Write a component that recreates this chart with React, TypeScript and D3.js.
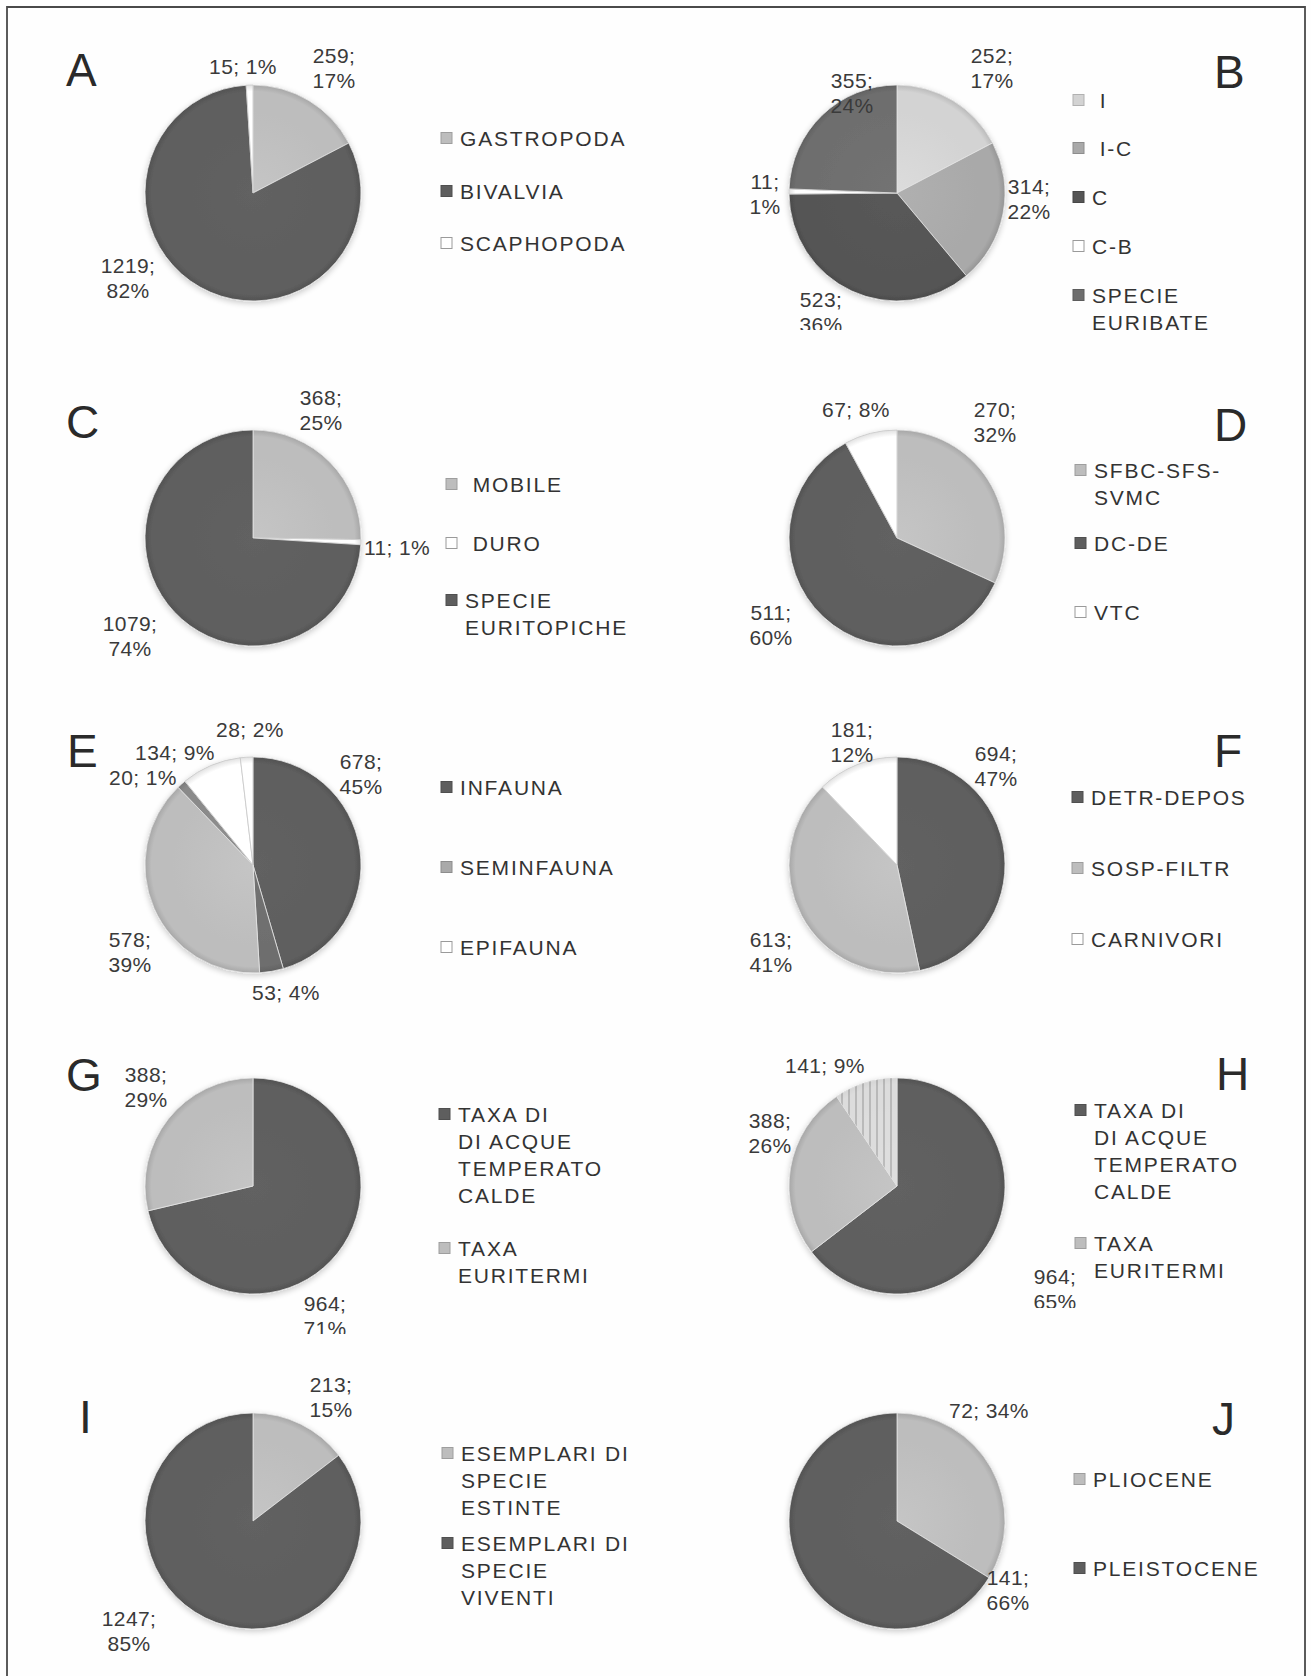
import React from "react";
import * as d3 from "d3";

// ---------------- DATA ----------------
const panelLetters = ["A", "B", "C", "D", "E", "F", "G", "H", "I", "J"];

const valuesA = [259, 1219, 15];
const valuesB = [252, 314, 523, 11, 355];
const valuesC = [368, 11, 1079];
const valuesD = [270, 511, 67];
const valuesE = [678, 53, 578, 20, 134, 28];
const valuesF = [694, 613, 181];
const valuesG = [964, 388];
const valuesH = [964, 388, 141];
const valuesI = [213, 1247];
const valuesJ = [72, 141];

// legend entries ("|" = line break)
const legendA = ["GASTROPODA", "BIVALVIA", "SCAPHOPODA"];
const legendB = [" I", " I-C", "C", "C-B", "SPECIE|EURIBATE"];
const legendC = [" MOBILE", " DURO", "SPECIE|EURITOPICHE"];
const legendD = ["SFBC-SFS-|SVMC", "DC-DE", "VTC"];
const legendE = ["INFAUNA", "SEMINFAUNA", "EPIFAUNA"];
const legendF = ["DETR-DEPOS", "SOSP-FILTR", "CARNIVORI"];
const legendG = ["TAXA DI|DI ACQUE|TEMPERATO|CALDE", "TAXA|EURITERMI"];
const legendH = ["TAXA DI|DI ACQUE|TEMPERATO|CALDE", "TAXA|EURITERMI"];
const legendI = ["ESEMPLARI DI|SPECIE|ESTINTE", "ESEMPLARI DI|SPECIE|VIVENTI"];
const legendJ = ["PLIOCENE", "PLEISTOCENE"];

// ---------------- STYLE ----------------
const DARK = "#5e5e5e";
const DARK_C = "#555555";
const DARK2 = "#6e6e6e";
const MID = "#8a8a8a";
const LIGHT = "#bdbdbd";
const LIGHT2 = "#a9a9a9";
const PALE = "#d3d3d3";
const WHITE = "#ffffff";
const STRIPE = "stripe";

const colorsA = [LIGHT, DARK, WHITE];
const colorsB = [PALE, LIGHT2, DARK_C, WHITE, DARK2];
const colorsC = [LIGHT, WHITE, DARK];
const colorsD = [LIGHT, DARK, WHITE];
const colorsE = [DARK, DARK2, LIGHT, MID, WHITE, WHITE];
const colorsF = [DARK, LIGHT, WHITE];
const colorsG = [DARK, LIGHT];
const colorsH = [DARK, LIGHT, STRIPE];
const colorsI = [LIGHT, DARK];
const colorsJ = [LIGHT, DARK];
const legendColorsE = [DARK, LIGHT2, WHITE];

// ---------------- LAYOUT ----------------
const W = 1311;
const H = 1676;
const R = 108;
const colX = [253, 897];
const rowY = [193, 538, 865, 1186, 1521];

// label offsets from pie centre: [dx, dy, lines]
const labA = [[81, -125, 2], [-125, 85, 2], [-10, -127, 1]];
const labB = [[95, -125, 2], [132, 6, 2], [-76, 119, 2], [-132, 1, 2], [-45, -100, 2]];
const labC = [[68, -128, 2], [144, 9, 1], [-123, 98, 2]];
const labD = [[98, -116, 2], [-126, 87, 2], [-41, -129, 1]];
const labE = [[108, -91, 2], [33, 127, 1], [-123, 87, 2], [-110, -88, 1], [-78, -113, 1], [-3, -136, 1]];
const labF = [[99, -99, 2], [-126, 87, 2], [-45, -123, 2]];
const labG = [[72, 130, 2], [-107, -99, 2]];
const labH = [[158, 103, 2], [-127, -53, 2], [-72, -121, 1]];
const labI = [[78, -124, 2], [-124, 110, 2]];
const labJ = [[92, -111, 1], [111, 69, 2]];

// panel letter positions [x, baseline]
const letterPos = [
  [66, 86], [1214, 88], [66, 438], [1214, 441], [67, 767],
  [1214, 767], [66, 1091], [1216, 1090], [79, 1433], [1212, 1435],
];
// legend marker x and row centres (first line)
const legendX = [441, 1073, 446, 1075, 441, 1072, 439, 1075, 442, 1074];
const legendRows = [
  [138, 191, 243],
  [100, 148, 197, 246, 295],
  [484, 543, 600],
  [470, 543, 612],
  [787, 867, 947],
  [797, 868, 939],
  [1114, 1248],
  [1110, 1243],
  [1453, 1543],
  [1479, 1568],
];
const labelClip = [9999, 330, 9999, 9999, 9999, 9999, 1334, 1308, 1651, 9999];

const panels = [
  { values: valuesA, colors: colorsA, legend: legendA, legendColors: colorsA, labels: labA },
  { values: valuesB, colors: colorsB, legend: legendB, legendColors: colorsB, labels: labB },
  { values: valuesC, colors: colorsC, legend: legendC, legendColors: colorsC, labels: labC },
  { values: valuesD, colors: colorsD, legend: legendD, legendColors: colorsD, labels: labD },
  { values: valuesE, colors: colorsE, legend: legendE, legendColors: legendColorsE, labels: labE },
  { values: valuesF, colors: colorsF, legend: legendF, legendColors: colorsF, labels: labF },
  { values: valuesG, colors: colorsG, legend: legendG, legendColors: colorsG, labels: labG },
  { values: valuesH, colors: colorsH, legend: legendH, legendColors: colorsH, labels: labH },
  { values: valuesI, colors: colorsI, legend: legendI, legendColors: colorsI, labels: labI },
  { values: valuesJ, colors: colorsJ, legend: legendJ, legendColors: colorsJ, labels: labJ },
];

const FONT = "'Liberation Sans', Arial, Helvetica, sans-serif";
const TEXT_COLOR = "#3a3a3a";

function shade(c: string, k: number) {
  const col = d3.color(c)!;
  return (k >= 0 ? col.brighter(k) : col.darker(-k)).formatHex();
}

export default function App() {
  const pie = d3.pie<number>().sort(null).value((d) => d);
  const arc = d3.arc<d3.PieArcDatum<number>>().innerRadius(0).outerRadius(R);
  const pct = d3.format(".0f");

  return (
    <svg
      width={W}
      height={H}
      viewBox={`0 0 ${W} ${H}`}
      style={{ position: "absolute", left: 0, top: 0, background: "#fefefe" }}
    >
      <defs>
        <filter id="soft" x="-20%" y="-20%" width="140%" height="140%">
          <feGaussianBlur in="SourceAlpha" stdDeviation="3" />
          <feOffset dx="0" dy="2" result="b" />
          <feComponentTransfer>
            <feFuncA type="linear" slope="0.22" />
          </feComponentTransfer>
          <feMerge>
            <feMergeNode />
            <feMergeNode in="SourceGraphic" />
          </feMerge>
        </filter>
        <pattern id="stripes" width="7" height="7" patternUnits="userSpaceOnUse">
          <rect width="7" height="7" fill="#dedede" />
          <line x1="1" y1="0" x2="1" y2="7" stroke="#a0a0a0" strokeWidth="1.6" />
        </pattern>
        {panels.map((p, pi) =>
          p.colors.map((c, i) => {
            const base = c === STRIPE ? "#d8d8d8" : c;
            return (
              <radialGradient
                key={`g${pi}-${i}`}
                id={`g${pi}-${i}`}
                gradientUnits="userSpaceOnUse"
                cx={0}
                cy={0}
                r={R}
              >
                <stop offset="0" stopColor={shade(base, 0.12)} />
                <stop offset="0.75" stopColor={base} />
                <stop offset="0.94" stopColor={base} />
                <stop offset="1" stopColor={shade(base, -0.35)} />
              </radialGradient>
            );
          })
        )}
        {panels.map((p, pi) => (
          <clipPath key={`c${pi}`} id={`clip${pi}`}>
            <rect x={0} y={0} width={W} height={labelClip[pi]} />
          </clipPath>
        ))}
      </defs>

      <rect x={0} y={0} width={W} height={H} fill="#fefefe" />
      {/* frame */}
      <path
        d={`M7,${H + 2} L7,7 L1305,7 L1305,${H + 2}`}
        fill="none"
        stroke="#4a4a4a"
        strokeWidth={1.8}
      />

      {panels.map((p, pi) => {
        const cx = colX[pi % 2];
        const cy = rowY[Math.floor(pi / 2)];
        const arcs = pie(p.values);
        const total = d3.sum(p.values);
        const [lx, ly] = letterPos[pi];
        const mx = legendX[pi];
        return (
          <g key={pi}>
            <text x={lx} y={ly} fontFamily={FONT} fontSize={46} fill="#2a2a2a">
              {panelLetters[pi]}
            </text>

            <g transform={`translate(${cx},${cy})`} filter="url(#soft)">
              {arcs.map((a, i) => (
                <path
                  key={i}
                  d={arc(a) || ""}
                  fill={`url(#g${pi}-${i})`}
                  stroke={p.colors[i] === WHITE ? "#c8c8c8" : "#e4e4e4"}
                  strokeWidth={0.8}
                  strokeLinejoin="round"
                />
              ))}
              {arcs.map((a, i) =>
                p.colors[i] === STRIPE ? (
                  <path key={`s${i}`} d={arc(a) || ""} fill="url(#stripes)" opacity={0.7} />
                ) : null
              )}
            </g>

            <g clipPath={`url(#clip${pi})`}>
              {arcs.map((a, i) => {
                const [dx, dy, lines] = p.labels[i];
                const v = p.values[i];
                const pc = pct((v / total) * 100) + "%";
                const x = cx + dx;
                const y = cy + dy;
                if (lines === 1) {
                  return (
                    <text
                      key={i}
                      x={x}
                      y={y}
                      textAnchor="middle"
                      dominantBaseline="central"
                      fontFamily={FONT}
                      fontSize={21}
                      letterSpacing={0.4}
                      fill={TEXT_COLOR}
                    >
                      {`${v}; ${pc}`}
                    </text>
                  );
                }
                return (
                  <text
                    key={i}
                    x={x}
                    textAnchor="middle"
                    fontFamily={FONT}
                    fontSize={21}
                    letterSpacing={0.4}
                    fill={TEXT_COLOR}
                  >
                    <tspan x={x} y={y - 12.5} dominantBaseline="central">{`${v};`}</tspan>
                    <tspan x={x} y={y + 12.5} dominantBaseline="central">{pc}</tspan>
                  </text>
                );
              })}
            </g>

            {p.legend.map((name, i) => {
              const ry = legendRows[pi][i];
              const c = p.legendColors[i];
              const fill = c === STRIPE ? "#d6d6d6" : c;
              const parts = name.split("|");
              return (
                <g key={`l${i}`}>
                  <rect
                    x={mx}
                    y={ry - 5.5}
                    width={11}
                    height={11}
                    fill={fill}
                    stroke={c === WHITE ? "#9a9a9a" : shade(fill, -0.5)}
                    strokeWidth={1}
                  />
                  <text
                    fontFamily={FONT}
                    fontSize={21}
                    letterSpacing={1.8}
                    fill="#333"
                    style={{ whiteSpace: "pre" }}
                  >
                    {parts.map((t, k) => (
                      <tspan key={k} x={mx + 19} y={ry + k * 27} dominantBaseline="central">
                        {t}
                      </tspan>
                    ))}
                  </text>
                </g>
              );
            })}
          </g>
        );
      })}
    </svg>
  );
}
